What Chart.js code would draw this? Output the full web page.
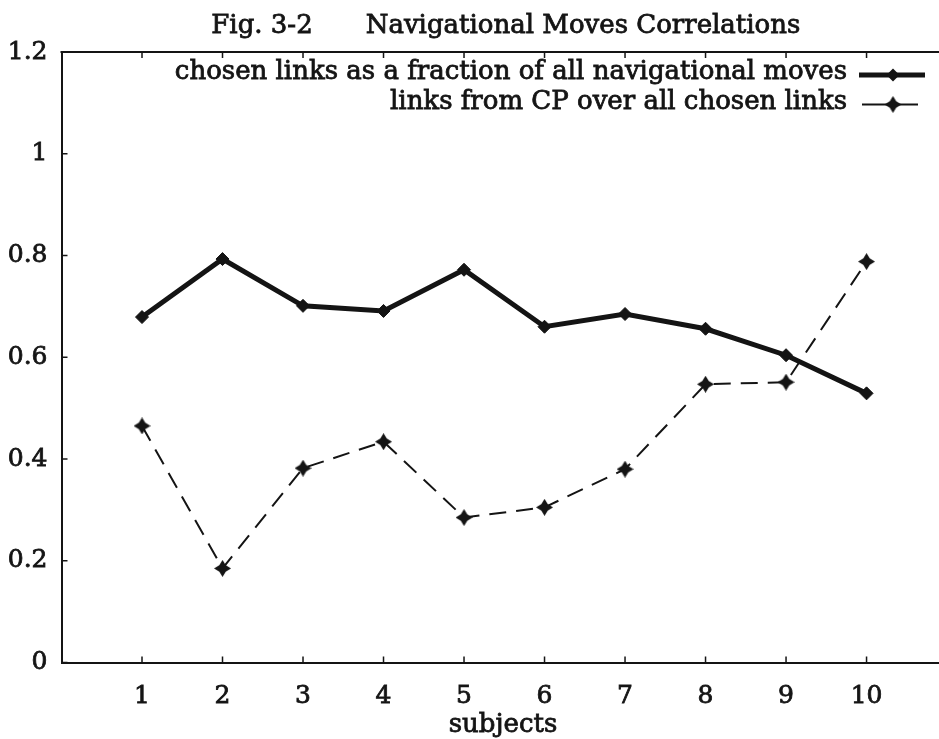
<!DOCTYPE html>
<html><head><meta charset="utf-8">
<script src="https://cdn.jsdelivr.net/npm/chart.js@4.4.1/dist/chart.umd.min.js"></script>
<style>html,body{margin:0;padding:0;background:#fff;overflow:hidden}#wrap{width:939px;height:739px;position:relative}</style>
</head><body><div id="wrap"><canvas id="c" width="939" height="739"></canvas></div>
<script>
const subjects = [1,2,3,4,5,6,7,8,9,10];
const chosenFraction = [0.679,0.793,0.701,0.691,0.772,0.660,0.685,0.656,0.604,0.529];
const cpOverChosen = [0.465,0.185,0.382,0.434,0.285,0.305,0.380,0.547,0.551,0.788];
const yTicks = [0,0.2,0.4,0.6,0.8,1,1.2];
const seriesLabels = ['chosen links as a fraction of all navigational moves','links from CP over all chosen links'];
const titleParts = ['Fig. 3-2','Navigational Moves Correlations'];
const xTitle = 'subjects';

const INK = '#141414';
const FONT = '"DejaVu Serif", serif';

function makeStar(size){
  const c=document.createElement('canvas'); c.width=c.height=size;
  const g=c.getContext('2d'); const m=size/2, w=size*0.19;
  g.fillStyle=INK; g.beginPath();
  g.moveTo(m,0); g.lineTo(m+w,m-w); g.lineTo(size,m); g.lineTo(m+w,m+w);
  g.lineTo(m,size); g.lineTo(m-w,m+w); g.lineTo(0,m); g.lineTo(m-w,m-w);
  g.closePath(); g.fill(); return c;
}
const star = makeStar(17);

function drawDiamond(ctx,x,y,r){
  ctx.beginPath(); ctx.moveTo(x,y-r); ctx.lineTo(x+r,y); ctx.lineTo(x,y+r); ctx.lineTo(x-r,y); ctx.closePath(); ctx.fill();
}
function boldText(ctx,t,x,y){ ctx.lineWidth=0.8; ctx.strokeStyle=INK; ctx.setLineDash([]); ctx.strokeText(t,x,y); ctx.fillText(t,x,y); }

const isInt = v => Math.abs(v-Math.round(v))<1e-6;

const deco = {
  id:'deco',
  beforeDraw(chart){ const c=chart.ctx; c.save(); c.fillStyle='#fff'; c.fillRect(0,0,chart.width,chart.height); c.restore(); },
  afterDraw(chart){
    const {ctx, chartArea:a, scales:{x,y}} = chart;
    ctx.save();
    ctx.strokeStyle=INK; ctx.lineWidth=2;
    ctx.beginPath(); ctx.moveTo(a.left-1,a.top); ctx.lineTo(chart.width,a.top); ctx.stroke();
    ctx.lineWidth=1.5;
    subjects.forEach(s=>{const px=x.getPixelForValue(s); ctx.beginPath(); ctx.moveTo(px,a.bottom); ctx.lineTo(px,a.bottom-6); ctx.moveTo(px,a.top); ctx.lineTo(px,a.top+6); ctx.stroke();});
    yTicks.forEach(v=>{const py=y.getPixelForValue(v); ctx.beginPath(); ctx.moveTo(a.left,py); ctx.lineTo(a.left+6,py); ctx.stroke();});
    // title
    ctx.fillStyle=INK; ctx.font='26px '+FONT; ctx.textBaseline='alphabetic'; ctx.textAlign='center';
    boldText(ctx,titleParts[0], 262, 33);
    boldText(ctx,titleParts[1], 583, 33);
    // x axis title
    boldText(ctx,xTitle, 503, 732);
    // legend
    ctx.textAlign='right';
    chart.data.datasets.forEach((ds,i)=>{
      const base = 79 + i*29.5, ly = base - 4;
      ctx.fillStyle=INK;
      boldText(ctx,ds.label, 847, base);
      ctx.strokeStyle=INK; ctx.lineWidth = i===0 ? 5 : 2; ctx.setLineDash([]);
      ctx.beginPath(); ctx.moveTo(i===0?859:862, ly); ctx.lineTo(i===0?925:918, ly); ctx.stroke();
      if(i===0){ drawDiamond(ctx,893,ly,6.5); }
      else { ctx.drawImage(star, 893-star.width/2, ly-star.height/2); }
    });
    ctx.restore();
  }
};

new Chart(document.getElementById('c'), {
  type:'line',
  data:{ datasets:[
    { label:seriesLabels[0], data:subjects.map((s,i)=>({x:s,y:chosenFraction[i]})),
      borderColor:INK, backgroundColor:INK, borderWidth:5, pointStyle:'rectRot', pointRadius:6.5,
      pointBackgroundColor:INK, pointBorderColor:INK, pointBorderWidth:1, tension:0, fill:false },
    { label:seriesLabels[1], data:subjects.map((s,i)=>({x:s,y:cpOverChosen[i]})),
      borderColor:INK, backgroundColor:INK, borderWidth:2, borderDash:[17,10], pointStyle:star, pointRadius:8,
      tension:0, fill:false }
  ]},
  options:{
    responsive:false, animation:false, devicePixelRatio:1,
    layout:{autoPadding:false, padding:{top:52,left:0,right:0,bottom:0}},
    plugins:{legend:{display:false}, title:{display:false}, tooltip:{enabled:false}},
    scales:{
      x:{ type:'linear', min:0, max:10.9,
        afterFit(s){ s.height = 76.5; s.paddingLeft=0; s.paddingRight=0; },
        grid:{display:true, drawOnChartArea:false, drawTicks:false},
        border:{display:true, color:INK, width:2},
        ticks:{ stepSize:1, includeBounds:false, autoSkip:false, maxRotation:0, padding:19, color:INK, font:{family:FONT,size:25},
          textStrokeColor:INK, textStrokeWidth:0.8,
          callback:v=> (isInt(v) && Math.round(v)>0 && Math.round(v)<=10) ? String(Math.round(v)) : '' },
        title:{display:false, text:xTitle}
      },
      y:{ min:0, max:1.2,
        afterFit(s){ s.width = 61.5; s.paddingTop=0; s.paddingBottom=0; },
        grid:{display:true, drawOnChartArea:false, drawTicks:false},
        border:{display:true, color:INK, width:2},
        ticks:{ stepSize:0.2, padding:14, color:INK, font:{family:FONT,size:25},
          textStrokeColor:INK, textStrokeWidth:0.8,
          callback:v=> String(+Number(v).toFixed(1)) }
      }
    }
  },
  plugins:[deco]
});
</script></body></html>
